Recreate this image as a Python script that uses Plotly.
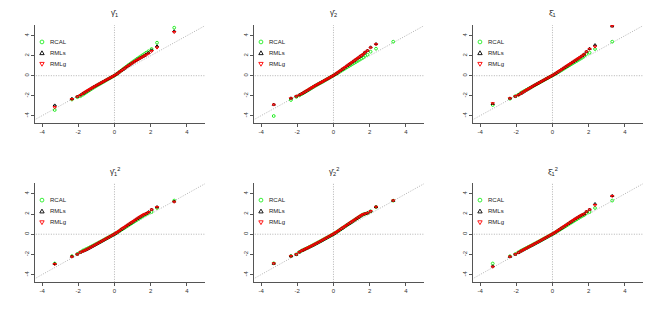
import plotly.graph_objects as go

# theoretical normal quantiles (x axis), shared by all panels
theo_q = [-3.3, -2.35, -2.05, -1.88, -1.75,
          -1.65, -1.55, -1.45, -1.35, -1.25, -1.15, -1.05, -0.95, -0.85, -0.75, -0.65, -0.55, -0.45, -0.35, -0.25, -0.15, -0.05,
          0.05, 0.15, 0.25, 0.35, 0.45, 0.55, 0.65, 0.75, 0.85, 0.95, 1.05, 1.15, 1.25, 1.35, 1.45, 1.55, 1.65,
          1.75, 1.88, 2.05, 2.35, 3.3]

titles = ["γ̂<sub>1</sub>", "γ̂<sub>2</sub>", "ξ̂<sub>1</sub>",
          "γ̂<sub>1</sub><sup>2</sup>", "γ̂<sub>2</sub><sup>2</sup>", "ξ̂<sub>1</sub><sup>2</sup>"]
series_names = ["RCAL", "RMLs", "RMLg"]
x_ticks = [-4, -2, 0, 2, 4]
y_ticks = [-4, -2, 0, 2, 4]

# panel 1
p1_rcal = [-3.43, -2.38, -2.15, -2.05, -1.9,
           -1.78, -1.66, -1.54, -1.42, -1.30, -1.19, -1.08, -0.97, -0.87, -0.77, -0.66, -0.56, -0.45, -0.35, -0.25, -0.14, -0.04,
           0.07, 0.20, 0.34, 0.48, 0.62, 0.76, 0.90, 1.04, 1.17, 1.30, 1.43, 1.56, 1.69, 1.81, 1.93, 2.05, 2.17,
           2.3, 2.45, 2.67, 3.3, 4.8]
p1_rmls = [-2.96, -2.3, -2.08, -1.93, -1.79,
           -1.67, -1.56, -1.45, -1.34, -1.23, -1.12, -1.02, -0.92, -0.82, -0.72, -0.62, -0.52, -0.42, -0.32, -0.22, -0.12, -0.02,
           0.09, 0.22, 0.35, 0.48, 0.61, 0.74, 0.87, 1.00, 1.12, 1.24, 1.36, 1.48, 1.59, 1.70, 1.81, 1.91, 2.01,
           2.15, 2.3, 2.55, 2.95, 4.45]
p1_rmlg = [-3.16, -2.35, -2.1, -1.95, -1.8,
           -1.68, -1.57, -1.46, -1.35, -1.24, -1.13, -1.03, -0.93, -0.83, -0.73, -0.63, -0.53, -0.43, -0.33, -0.23, -0.13, -0.03,
           0.07, 0.19, 0.32, 0.45, 0.58, 0.71, 0.84, 0.97, 1.09, 1.21, 1.33, 1.45, 1.56, 1.67, 1.78, 1.88, 1.98,
           2.08, 2.2, 2.45, 2.8, 4.35]

# panel 2
p2_rcal = [-4.03, -2.43, -2.12, -1.97, -1.83,
           -1.72, -1.61, -1.50, -1.39, -1.28, -1.17, -1.06, -0.96, -0.86, -0.76, -0.66, -0.56, -0.45, -0.35, -0.24, -0.14, -0.03,
           0.07, 0.18, 0.29, 0.40, 0.51, 0.62, 0.73, 0.84, 0.95, 1.06, 1.17, 1.28, 1.39, 1.50, 1.61, 1.72, 1.83,
           2.0, 2.1, 2.4, 2.7, 3.4]
p2_rmls = [-2.88, -2.25, -2.05, -1.92, -1.79,
           -1.69, -1.58, -1.47, -1.36, -1.25, -1.14, -1.03, -0.93, -0.83, -0.73, -0.63, -0.53, -0.43, -0.33, -0.23, -0.12, -0.02,
           0.09, 0.21, 0.34, 0.47, 0.60, 0.73, 0.86, 0.99, 1.12, 1.25, 1.38, 1.51, 1.64, 1.77, 1.90, 2.03, 2.16,
           2.35, 2.52, 2.85, 3.18, 5.7]
p2_rmlg = [-2.9, -2.27, -2.07, -1.93, -1.8,
           -1.70, -1.59, -1.48, -1.37, -1.26, -1.15, -1.04, -0.94, -0.84, -0.74, -0.64, -0.54, -0.44, -0.34, -0.24, -0.13, -0.03,
           0.08, 0.20, 0.33, 0.46, 0.59, 0.72, 0.85, 0.98, 1.11, 1.24, 1.37, 1.50, 1.63, 1.76, 1.89, 2.02, 2.14,
           2.33, 2.5, 2.8, 3.13, 5.6]

# panel 3
p3_rcal = [-2.93, -2.3, -2.05, -1.9, -1.72,
           -1.62, -1.52, -1.42, -1.33, -1.23, -1.13, -1.03, -0.93, -0.83, -0.73, -0.63, -0.53, -0.43, -0.33, -0.23, -0.13, -0.03,
           0.06, 0.17, 0.28, 0.39, 0.50, 0.61, 0.72, 0.83, 0.94, 1.05, 1.16, 1.27, 1.38, 1.49, 1.60, 1.71, 1.82,
           1.97, 2.17, 2.3, 2.67, 3.4]
p3_rmls = [-2.8, -2.26, -2.06, -1.92, -1.79,
           -1.67, -1.56, -1.45, -1.34, -1.23, -1.12, -1.01, -0.91, -0.81, -0.71, -0.61, -0.51, -0.41, -0.31, -0.21, -0.11, -0.01,
           0.09, 0.20, 0.32, 0.44, 0.56, 0.68, 0.80, 0.92, 1.04, 1.16, 1.28, 1.40, 1.52, 1.64, 1.76, 1.88, 2.00,
           2.15, 2.42, 2.7, 3.07, 4.95]
p3_rmlg = [-2.77, -2.27, -2.07, -1.93, -1.8,
           -1.68, -1.57, -1.46, -1.35, -1.24, -1.13, -1.02, -0.92, -0.82, -0.72, -0.62, -0.52, -0.42, -0.32, -0.22, -0.12, -0.02,
           0.08, 0.19, 0.31, 0.43, 0.55, 0.67, 0.79, 0.91, 1.03, 1.15, 1.27, 1.39, 1.51, 1.63, 1.75, 1.87, 1.99,
           2.13, 2.4, 2.67, 2.9, 4.97]

# panel 4
p4_rcal = [-2.9, -2.17, -1.95, -1.77, -1.62,
           -1.54, -1.45, -1.37, -1.28, -1.19, -1.10, -1.00, -0.91, -0.81, -0.72, -0.62, -0.52, -0.42, -0.33, -0.23, -0.13, -0.03,
           0.06, 0.17, 0.28, 0.40, 0.51, 0.62, 0.74, 0.85, 0.97, 1.08, 1.20, 1.31, 1.43, 1.54, 1.66, 1.77, 1.88,
           1.97, 2.1, 2.2, 2.6, 3.33]
p4_rmls = [-2.93, -2.2, -1.98, -1.79, -1.69,
           -1.61, -1.52, -1.43, -1.33, -1.23, -1.13, -1.03, -0.93, -0.83, -0.73, -0.63, -0.53, -0.43, -0.33, -0.23, -0.13, -0.03,
           0.07, 0.19, 0.31, 0.44, 0.57, 0.69, 0.81, 0.93, 1.05, 1.17, 1.29, 1.41, 1.53, 1.65, 1.76, 1.87, 1.97,
           2.05, 2.2, 2.45, 2.7, 3.25]
p4_rmlg = [-2.97, -2.23, -2.0, -1.8, -1.7,
           -1.62, -1.53, -1.44, -1.34, -1.24, -1.14, -1.04, -0.94, -0.84, -0.74, -0.64, -0.54, -0.44, -0.34, -0.24, -0.14, -0.04,
           0.07, 0.19, 0.31, 0.44, 0.57, 0.69, 0.81, 0.93, 1.05, 1.17, 1.29, 1.41, 1.53, 1.65, 1.76, 1.87, 1.97,
           2.03, 2.17, 2.43, 2.67, 3.2]

# panel 5
p5_rcal = [-2.88, -2.16, -1.99, -1.76, -1.62,
           -1.54, -1.45, -1.37, -1.28, -1.19, -1.10, -1.00, -0.91, -0.81, -0.72, -0.62, -0.52, -0.42, -0.33, -0.23, -0.13, -0.03,
           0.07, 0.18, 0.30, 0.42, 0.55, 0.67, 0.79, 0.91, 1.03, 1.15, 1.27, 1.39, 1.51, 1.63, 1.75, 1.87, 1.96,
           2.02, 2.09, 2.26, 2.69, 3.32]
p5_rmls = [-2.9, -2.17, -2.0, -1.77, -1.63,
           -1.55, -1.46, -1.38, -1.29, -1.20, -1.11, -1.01, -0.92, -0.82, -0.73, -0.63, -0.53, -0.43, -0.33, -0.23, -0.13, -0.03,
           0.07, 0.19, 0.31, 0.43, 0.56, 0.68, 0.80, 0.92, 1.04, 1.16, 1.28, 1.40, 1.52, 1.64, 1.76, 1.88, 1.97,
           2.03, 2.1, 2.27, 2.7, 3.33]
p5_rmlg = [-2.9, -2.17, -2.0, -1.77, -1.63,
           -1.55, -1.46, -1.38, -1.29, -1.20, -1.11, -1.01, -0.92, -0.82, -0.73, -0.63, -0.53, -0.43, -0.33, -0.23, -0.13, -0.03,
           0.07, 0.19, 0.31, 0.43, 0.56, 0.68, 0.80, 0.92, 1.04, 1.16, 1.28, 1.40, 1.52, 1.64, 1.76, 1.88, 1.97,
           2.03, 2.1, 2.27, 2.7, 3.33]

# panel 6
p6_rcal = [-2.9, -2.18, -1.96, -1.78, -1.64,
           -1.55, -1.46, -1.37, -1.28, -1.19, -1.10, -1.00, -0.91, -0.81, -0.72, -0.62, -0.52, -0.42, -0.33, -0.23, -0.13, -0.03,
           0.06, 0.16, 0.27, 0.38, 0.49, 0.60, 0.71, 0.82, 0.94, 1.05, 1.16, 1.27, 1.38, 1.49, 1.60, 1.71, 1.81,
           1.9, 2.1, 2.2, 2.6, 3.33]
p6_rmls = [-3.17, -2.22, -1.99, -1.82, -1.69,
           -1.59, -1.49, -1.40, -1.30, -1.20, -1.11, -1.01, -0.91, -0.82, -0.72, -0.62, -0.52, -0.42, -0.32, -0.22, -0.12, -0.02,
           0.08, 0.19, 0.31, 0.43, 0.55, 0.67, 0.79, 0.91, 1.03, 1.15, 1.27, 1.39, 1.51, 1.62, 1.73, 1.84, 1.94,
           2.02, 2.25, 2.45, 3.0, 3.8]
p6_rmlg = [-3.23, -2.23, -2.0, -1.83, -1.7,
           -1.60, -1.50, -1.41, -1.31, -1.21, -1.12, -1.02, -0.92, -0.83, -0.73, -0.63, -0.53, -0.43, -0.33, -0.23, -0.13, -0.03,
           0.07, 0.18, 0.30, 0.42, 0.54, 0.66, 0.78, 0.90, 1.02, 1.14, 1.26, 1.38, 1.50, 1.61, 1.72, 1.83, 1.93,
           2.0, 2.23, 2.43, 2.87, 3.77]

panels = [
    (p1_rcal, p1_rmls, p1_rmlg),
    (p2_rcal, p2_rmls, p2_rmlg),
    (p3_rcal, p3_rmls, p3_rmlg),
    (p4_rcal, p4_rmls, p4_rmlg),
    (p5_rcal, p5_rmls, p5_rmlg),
    (p6_rcal, p6_rmls, p6_rmlg),
]

W, H = 656, 317
col_px = [(35, 205), (254, 424), (473, 643)]
row_px = [(25, 123), (183, 282)]
x_range = [-4.39, 5.0]
y_range = [-4.73, 5.07]

colors = ["#22EE22", "#000000", "#FF0000"]
symbols = ["circle-open", "triangle-up-open", "triangle-down-open"]
# legend key outlines, in pixels around the key anchor
legend_paths = [None, "M -2.2,-1.6 L 2.2,-1.6 L 0,2.2 Z", "M -2.2,1.6 L 2.2,1.6 L 0,-2.2 Z"]
legend_rows = [0.827, 0.714, 0.602]

fig = go.Figure()
FONT = "Liberation Sans, Arial, sans-serif"
layout = dict(
    width=W, height=H, margin=dict(l=0, r=0, t=0, b=0, autoexpand=False),
    paper_bgcolor="white", plot_bgcolor="white", showlegend=False,
    font=dict(family=FONT, size=6, color="#333333"),
)
annotations = []
shapes = []

for i, (rcal, rmls, rmlg) in enumerate(panels):
    r, c = divmod(i, 3)
    n = i + 1
    xa = "x" if n == 1 else f"x{n}"
    ya = "y" if n == 1 else f"y{n}"
    x0, x1 = col_px[c]
    t0, t1 = row_px[r]
    layout["xaxis" if n == 1 else f"xaxis{n}"] = dict(
        domain=[x0 / W, x1 / W], anchor=ya, range=x_range, automargin=False,
        showline=True, linecolor="#555555", linewidth=1,
        ticks="outside", ticklen=3, tickcolor="#555555", tickwidth=1,
        tickvals=x_ticks, ticktext=[str(v) for v in x_ticks],
        showgrid=False, zeroline=False, tickfont=dict(size=6, color="#333333"),
    )
    layout["yaxis" if n == 1 else f"yaxis{n}"] = dict(
        domain=[1 - t1 / H, 1 - t0 / H], anchor=xa, range=y_range, automargin=False,
        showline=True, linecolor="#555555", linewidth=1,
        ticks="outside", ticklen=3, tickcolor="#555555", tickwidth=1,
        tickvals=y_ticks, ticktext=[str(v) for v in y_ticks], tickangle=-90,
        showgrid=False, zeroline=False, tickfont=dict(size=6, color="#333333"),
    )
    ref = dict(xaxis=xa, yaxis=ya)
    # reference lines
    for lx, ly in (([-6, 6], [-6, 6]), ([-6, 6], [0, 0]), ([0, 0], [-6, 6])):
        fig.add_trace(go.Scatter(x=lx, y=ly, mode="lines",
                                 line=dict(color="#A0A0A0", width=0.8, dash="1px,1.5px"),
                                 hoverinfo="skip", **ref))
    for vals, col, sym, name in zip((rcal, rmls, rmlg), colors, symbols, series_names):
        fig.add_trace(go.Scatter(x=theo_q, y=vals, mode="markers", name=name,
                                 marker=dict(symbol=sym, size=2.8, color=col, line=dict(color=col, width=1)),
                                 **ref))
    dom = dict(xref=f"{xa} domain", yref=f"{ya} domain")
    annotations.append(dict(text=titles[i], x=0.47, y=1 + 12 / (t1 - t0), xanchor="center", yanchor="middle",
                            showarrow=False, font=dict(size=8, color="#222222"), **dom))
    for k, (col, name) in enumerate(zip(colors, series_names)):
        yy = legend_rows[k]
        key = dict(xsizemode="pixel", ysizemode="pixel", xanchor=0.041, yanchor=yy,
                   line=dict(color=col, width=0.9), **dom)
        if legend_paths[k] is None:
            shapes.append(dict(type="circle", x0=-1.9, x1=1.9, y0=-1.9, y1=1.9, **key))
        else:
            shapes.append(dict(type="path", path=legend_paths[k], **key))
        annotations.append(dict(text=name, x=0.075, y=yy, xanchor="left", yanchor="middle", showarrow=False,
                                font=dict(size=6, color="#222222"), **dom))

layout["annotations"] = annotations
layout["shapes"] = shapes
fig.update_layout(**layout)
fig.write_html("out.html", config={"displayModeBar": False})

# remove the browser's default page margin so the figure sits at the window origin
with open("out.html", "r", encoding="utf-8") as fh:
    html = fh.read()
html = html.replace("<body>", '<body style="margin:0;padding:0;overflow:hidden">', 1)
with open("out.html", "w", encoding="utf-8") as fh:
    fh.write(html)
